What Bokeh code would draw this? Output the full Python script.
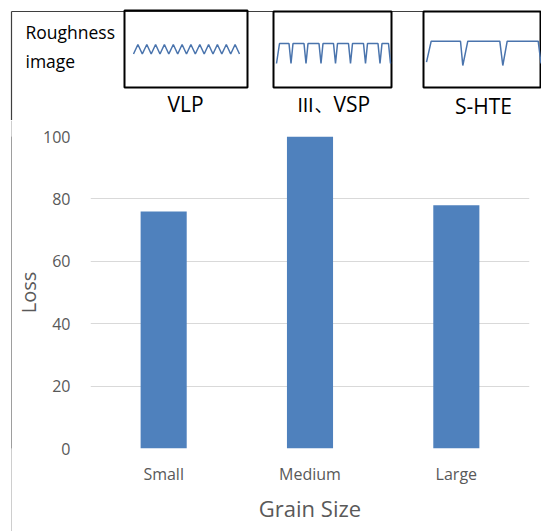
from bokeh.plotting import figure
from bokeh.models import Range1d, FixedTicker, Spacer
from bokeh.layouts import row
from bokeh.core.properties import value
from bokeh.embed import file_html
from bokeh.resources import INLINE

# ---- data ----
categories = ["Small", "Medium", "Large"]
loss = [76, 100, 78]
y_ticks = [0, 20, 40, 60, 80, 100]
image_labels = ["VLP", "Ⅲ、VSP", "S-HTE"]
x_title = "Grain Size"
y_title = "Loss"

# roughness illustrations (pixel profiles inside the header boxes)
vlp_x = [133, 137.4, 141.8, 146.3, 150.7, 155.1, 159.5, 163.9, 168.3, 172.8, 177.2, 181.6,
         186, 190.4, 194.8, 199.3, 203.7, 208.1, 212.5, 216.9, 221.3, 225.8, 230.2, 234.6, 239]
vlp_y = [53.5, 44, 53.5, 44, 53.5, 44, 53.5, 44, 53.5, 44, 53.5, 44, 53.5,
         44, 53.5, 44, 53.5, 44, 53.5, 44, 53.5, 44, 53.5, 44, 53.5]
vsp_x = [276, 279, 288.5, 290.5, 292.5, 303.5, 305.5, 307.5, 318.5, 320.5, 322.5, 333, 335, 337,
         348, 350, 352, 363, 365, 367, 377.5, 379.5, 381.5, 388, 390]
vsp_y = [63, 43, 43, 63, 43, 43, 63, 43, 43, 63, 43, 43, 63, 43,
         43, 63, 43, 43, 63, 43, 43, 63, 43, 43, 63]
hte_x = [426, 430.7, 460, 462.3, 467.3, 499.3, 502.3, 506.7, 537.7, 540.5]
hte_y = [61.7, 40.7, 40.7, 65, 40.7, 40.7, 65, 40.7, 40.7, 63]

FONT = "Open Sans, Noto Sans CJK SC"
CJK_FONT = "Noto Sans CJK SC"
FRAME_COLOR = "#3f3f3f"
WAVE_COLOR = "#4a74ad"

# ---- header with roughness images ----
h = figure(width=541, height=120, x_range=Range1d(0, 541), y_range=Range1d(120, 0),
           x_axis_type=None, y_axis_type=None, min_border=0,
           toolbar_location=None, output_backend="svg")
h.grid.visible = False
h.outline_line_color = None
h.segment(x0=[11, 11], y0=[11, 11], x1=[541, 11], y1=[11, 120],
          line_color=FRAME_COLOR, line_width=1.2)
h.quad(left=[124, 273, 423], right=[247, 391, 540], top=[10, 11, 11], bottom=[87, 87, 87],
       fill_color=None, line_color="black", line_width=2)
for xs, ys in [(vlp_x, vlp_y), (vsp_x, vsp_y), (hte_x, hte_y)]:
    h.line(xs, ys, line_color=WAVE_COLOR, line_width=1.5)
h.text(x=[25, 25], y=[31, 60], text=["Roughness", "image"], text_font=value(FONT),
       text_font_size="17.5px", text_baseline="alphabetic", text_align="left", text_color="black")
h.text(x=[185, 483], y=[103, 105], text=[image_labels[0], image_labels[2]],
       text_font=value(FONT), text_font_size="21px", text_baseline="alphabetic",
       text_align="center", text_color="black")
h.text(x=[296], y=[103], text=[image_labels[1][:2]], text_font=value(CJK_FONT),
       text_font_size="18px", text_baseline="alphabetic", text_align="left", text_color="black")
h.text(x=[333], y=[103], text=[image_labels[1][2:]], text_font=value(FONT),
       text_font_size="21px", text_baseline="alphabetic", text_align="left", text_color="black")

# ---- left frame line of the lower part ----
strip = figure(width=1, height=411, x_axis_type=None, y_axis_type=None, min_border=0,
               toolbar_location=None, output_backend="svg",
               background_fill_color=FRAME_COLOR, border_fill_color=FRAME_COLOR)
strip.grid.visible = False
strip.outline_line_color = None

# ---- main bar chart ----
p = figure(x_range=categories, y_range=Range1d(0, 100), width=529, height=411,
           min_border_left=78, min_border_right=12, min_border_top=16, min_border_bottom=83,
           toolbar_location=None, output_backend="svg")
p.vbar(x=categories, top=loss, width=0.315, fill_color="#4f81bd", line_color=None)
p.outline_line_color = None
p.xgrid.visible = False
p.ygrid.grid_line_color = "#d9d9d9"
p.ygrid.grid_line_width = 1.2
p.yaxis.ticker = FixedTicker(ticks=y_ticks)
for ax in (p.xaxis[0], p.yaxis[0]):
    ax.axis_line_color = None
    ax.major_tick_line_color = None
    ax.minor_tick_line_color = None
    ax.major_tick_in = 0
    ax.major_tick_out = 0
    ax.minor_tick_out = 0
    ax.major_label_text_font = FONT
    ax.major_label_text_font_size = "16px"
    ax.major_label_text_color = "#595959"
    ax.axis_label_text_font = FONT
    ax.axis_label_text_font_style = "normal"
    ax.axis_label_text_color = "#595959"
p.yaxis.major_label_standoff = 20
p.yaxis.axis_label = y_title
p.yaxis.axis_label_text_font_size = "20px"
p.yaxis.axis_label_standoff = -2
p.xaxis.major_label_standoff = 14
p.xaxis.axis_label = x_title
p.xaxis.axis_label_text_font_size = "22px"
p.xaxis.axis_label_standoff = 5

bottom = row(Spacer(width=11, height=411), strip, p, spacing=0)

open("out.html", "w").write(file_html([h, bottom], INLINE))
